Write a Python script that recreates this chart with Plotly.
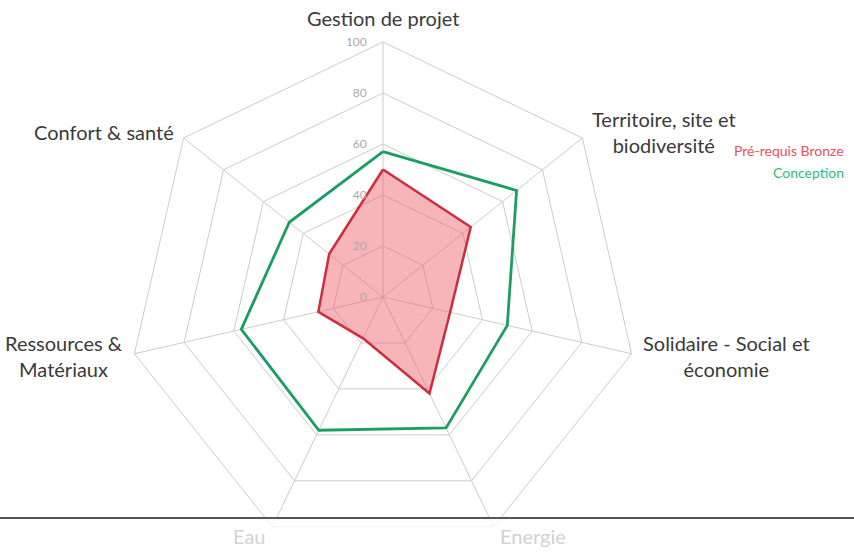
import math
import plotly.graph_objects as go

categories = ["Gestion de projet", "Territoire, site et<br>biodiversité",
              "Solidaire - Social et<br>économie", "Energie", "Eau",
              "Ressources &<br>Matériaux", "Confort & santé"]
faded = ["Energie", "Eau"]
bronze = [50, 44, 27, 42, 18, 26, 27]
conception = [57, 67, 50, 57, 58, 57, 47]
radial_ticks = [0, 20, 40, 60, 80, 100]

W, H = 854, 557
cx, cy, R = 383, 297, 255
pad = 10

fig = go.Figure()
fig.add_trace(go.Scatterpolar(
    r=conception + conception[:1], theta=categories + categories[:1],
    mode="lines", line=dict(color="rgb(28,158,98)", width=2.8),
    name="Conception", showlegend=False))
fig.add_trace(go.Scatterpolar(
    r=bronze + bronze[:1], theta=categories + categories[:1],
    mode="lines", fill="toself", fillcolor="rgba(240,90,100,0.45)",
    line=dict(color="rgb(205,45,60)", width=2.5),
    name="Pré-requis Bronze", showlegend=False))

# category labels placed around the polygon (centered multi-line text)
annotations = []
n = len(categories)
for i, lab in enumerate(categories):
    a = 2 * math.pi * i / n
    sx, sy = math.sin(a), math.cos(a)
    px = cx + (R + pad) * sx
    py = cy - (R + pad) * sy
    xa = "center" if abs(sx) < 0.05 else ("left" if sx > 0 else "right")
    ya = "bottom" if sy > 0.95 else "middle"
    annotations.append(dict(
        text=lab, x=px / W, y=1 - py / H, xref="paper", yref="paper",
        xanchor=xa, yanchor=ya, align="center", showarrow=False,
        font=dict(size=20, family="Lato",
                  color="#d2d2d2" if lab in faded else "#3a3a3a")))

annotations += [
    dict(text="Pré-requis Bronze", x=846 / W, y=1 - 150 / H, xref="paper", yref="paper",
         xanchor="right", yanchor="middle", showarrow=False,
         font=dict(size=14, color="rgb(232,80,95)")),
    dict(text="Conception", x=846 / W, y=1 - 172 / H, xref="paper", yref="paper",
         xanchor="right", yanchor="middle", showarrow=False,
         font=dict(size=14, color="rgb(50,185,125)")),
]

hidden_pad = '<span style="color:rgba(0,0,0,0)">00</span>'
radial_ticktext = [f"{v}{hidden_pad}" for v in radial_ticks]

fig.update_layout(
    width=W, height=H,
    margin=dict(l=0, r=0, t=0, b=0),
    paper_bgcolor="white",
    font=dict(family="Lato", color="#333"),
    polar=dict(
        domain=dict(x=[(cx - R) / W, (cx + R) / W],
                    y=[1 - (cy + R) / H, 1 - (cy - R) / H]),
        bgcolor="white",
        gridshape="linear",
        radialaxis=dict(range=[0, 100], tickmode="array", tickvals=radial_ticks,
                        ticktext=radial_ticktext,
                        angle=90, tickangle=90, side="counterclockwise",
                        showline=False, gridcolor="#cccccc", gridwidth=1,
                        tickfont=dict(size=12, color="#aaa"), ticks=""),
        angularaxis=dict(direction="clockwise", rotation=90,
                         gridcolor="#cccccc", linecolor="#cccccc",
                         showticklabels=False, ticks=""),
    ),
    annotations=annotations,
    shapes=[
        dict(type="rect", xref="paper", yref="paper", x0=0, x1=1,
             y0=0, y1=1 - 519 / H, fillcolor="rgba(255,255,255,0.72)",
             line=dict(width=0), layer="above"),
        dict(type="line", xref="paper", yref="paper", x0=0, x1=1,
             y0=1 - 518 / H, y1=1 - 518 / H, line=dict(color="#555", width=2),
             layer="above"),
    ],
)

fig.write_html("out.html", config={"displayModeBar": False},
               post_script="document.body.style.margin='0';document.body.style.padding='0';")
